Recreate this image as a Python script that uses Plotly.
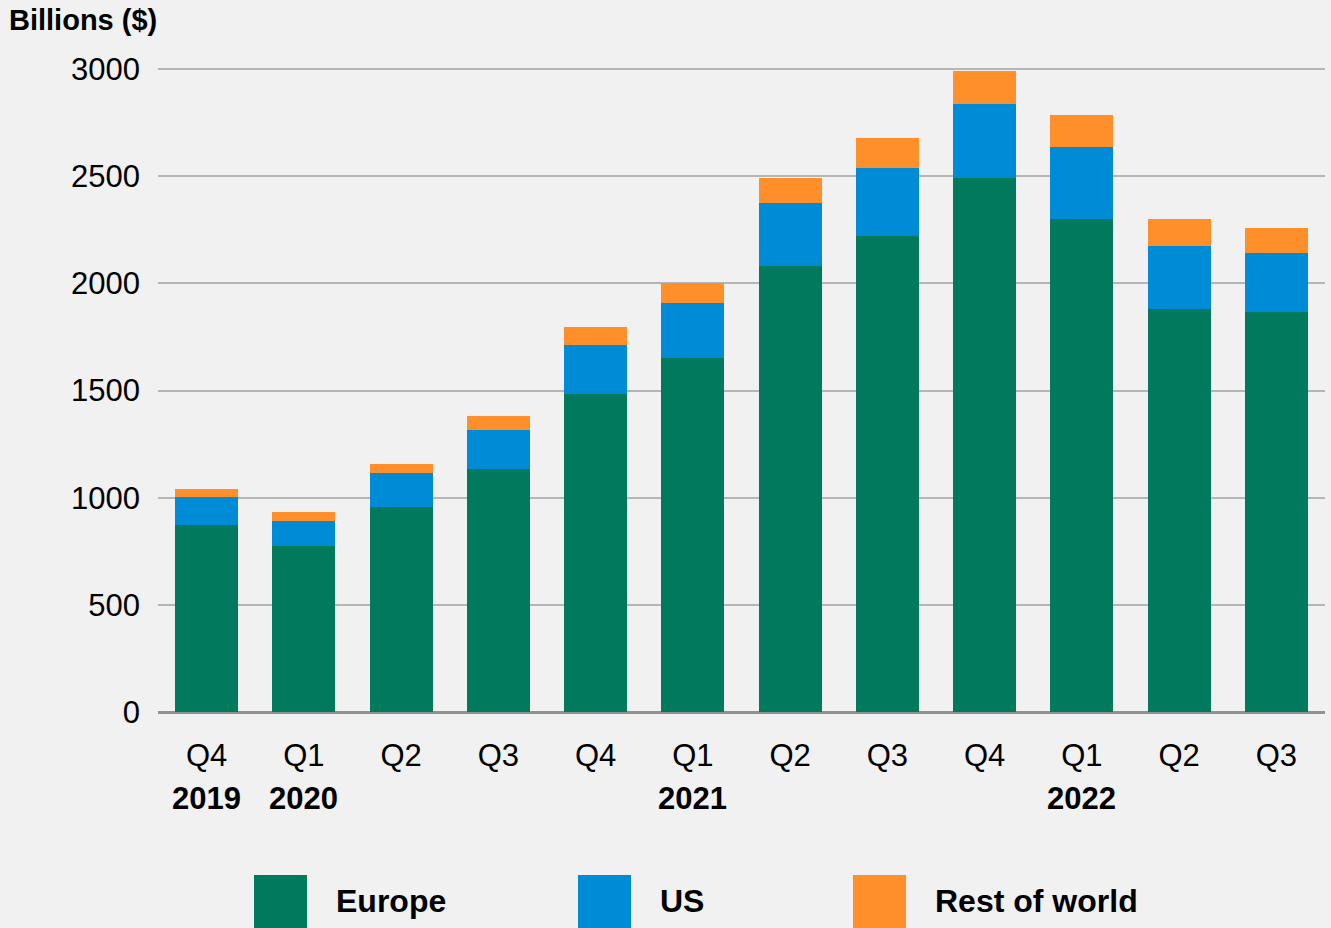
import plotly.graph_objects as go

quarters = ["Q4", "Q1", "Q2", "Q3", "Q4", "Q1", "Q2", "Q3", "Q4", "Q1", "Q2", "Q3"]
years = ["2019", "2020", "", "", "", "2021", "", "", "", "2022", "", ""]
europe = [874, 776, 958, 1136, 1486, 1650, 2080, 2220, 2492, 2300, 1883, 1869]
us = [131, 117, 159, 182, 229, 261, 294, 317, 345, 336, 290, 271]
rest_of_world = [37, 42, 42, 65, 84, 89, 117, 141, 154, 149, 127, 118]

series_names = ["Europe", "US", "Rest of world"]
series_values = [europe, us, rest_of_world]
colors = ["#00795D", "#008BD6", "#FF8F2A"]
y_ticks = [0, 500, 1000, 1500, 2000, 2500, 3000]

x = list(range(len(quarters)))

FONT = "Liberation Sans, Arial, Helvetica, sans-serif"
BG = "#F0F1F0"

fig = go.Figure()
for name, vals, col in zip(series_names, series_values, colors):
    fig.add_trace(go.Bar(x=x, y=vals, name=name, marker=dict(color=col, line=dict(width=0)),
                         showlegend=False))

fig.update_layout(
    barmode="stack",
    bargap=0.35,
    width=1331, height=928,
    paper_bgcolor=BG, plot_bgcolor=BG,
    margin=dict(l=158, r=6, t=67, b=216),
    font=dict(family=FONT, size=31, color="#000000"),
    xaxis=dict(tickmode="array", tickvals=x, ticktext=quarters, showgrid=False,
               showline=False, zeroline=False, ticks="", ticklabelstandoff=22,
               range=[-0.5, len(x) - 0.5],
               tickfont=dict(family=FONT, size=31, color="#000000")),
    yaxis=dict(range=[0, 3010], tickvals=y_ticks, showgrid=True, gridcolor="#B5B7B6",
               gridwidth=1.5, zeroline=True, zerolinecolor="#8E9494", zerolinewidth=2.5,
               showline=False, ticks="", ticklabelstandoff=17,
               tickfont=dict(family=FONT, size=31, color="#000000")),
)

plot_w, plot_h = 1167, 645
def px_to_paper_x(px):
    return (px - 158) / plot_w
def px_to_paper_y(py):
    return (928 - 216 - py) / plot_h

# year labels under quarter ticks
for xi, yr in zip(x, years):
    if yr:
        fig.add_annotation(text="<b>" + yr + "</b>", xref="x", yref="paper",
                           x=xi, y=px_to_paper_y(798), xanchor="center", yanchor="middle",
                           showarrow=False, font=dict(family=FONT, size=31, color="#000000"))

fig.add_annotation(text="<b>Billions ($)</b>", xref="paper", yref="paper",
                   x=px_to_paper_x(7), y=px_to_paper_y(20), xanchor="left", yanchor="middle",
                   showarrow=False, font=dict(family=FONT, size=29, color="#000000"))

# custom legend
legend_x = [254, 578, 853]
for lx, name, col in zip(legend_x, series_names, colors):
    fig.add_shape(type="rect", xref="paper", yref="paper",
                  x0=px_to_paper_x(lx), x1=px_to_paper_x(lx + 53),
                  y0=px_to_paper_y(930), y1=px_to_paper_y(875),
                  fillcolor=col, line=dict(width=0))
    fig.add_annotation(text="<b>" + name + "</b>", xref="paper", yref="paper",
                       x=px_to_paper_x(lx + 80), y=px_to_paper_y(901),
                       xanchor="left", yanchor="middle", showarrow=False,
                       font=dict(family=FONT, size=32, color="#000000"))

fig.write_html("out.html", config={"displayModeBar": False},
               post_script="document.body.style.margin='0';document.body.style.background='" + BG + "';")
